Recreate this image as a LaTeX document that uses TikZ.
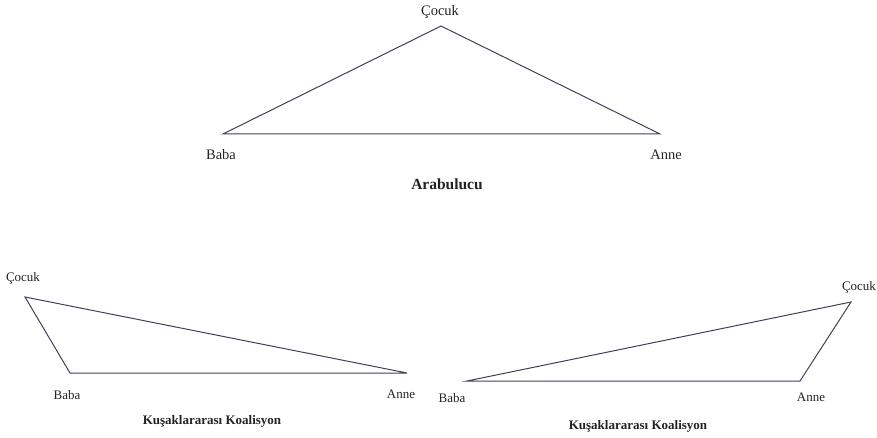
\documentclass[tikz,border=0pt]{standalone}
\usepackage{fontspec}
\setmainfont{Liberation Serif}
\definecolor{edgecol}{RGB}{62,66,88}
\definecolor{txtcol}{RGB}{35,35,35}
\begin{document}
\begin{tikzpicture}[x=1pt,y=-1pt,
  edge/.style={draw=edgecol, line width=1pt, line join=miter},
  lbl/.style={inner sep=0pt, font=\fontsize{13}{15}\selectfont, text=txtcol},
  biglbl/.style={inner sep=0pt, font=\fontsize{14.5}{16}\selectfont, text=txtcol},
  ttl/.style={inner sep=0pt, font=\fontsize{13}{15}\selectfont\bfseries, text=txtcol},
  bigttl/.style={inner sep=0pt, font=\fontsize{15.5}{17}\selectfont\bfseries, text=txtcol}]
\useasboundingbox (0,0) rectangle (877,438);
% top triangle
\coordinate (tc) at (441,26);
\coordinate (tb) at (223,134);
\coordinate (ta) at (660,134);
\draw[edge] (tc) -- (ta) -- (tb) -- cycle;
\node[biglbl] (ltc) at (440,12) {Çocuk};
\node[biglbl] (ltb) at (221,155) {Baba};
\node[biglbl] (lta) at (666,155) {Anne};
\node[bigttl] (ttop) at (447,184) {Arabulucu};
% bottom-left triangle
\coordinate (lc) at (25,297);
\coordinate (lb) at (70,373);
\coordinate (la) at (407,373);
\draw[edge] (lc) -- (la) -- (lb) -- cycle;
\node[lbl] (llc) at (23,278) {Çocuk};
\node[lbl] (llb) at (67,395) {Baba};
\node[lbl] (lla) at (401,394) {Anne};
\node[ttl] (tleft) at (212,421) {Kuşaklararası Koalisyon};
% bottom-right triangle
\coordinate (rc) at (851,302);
\coordinate (rb) at (467,381);
\coordinate (ra) at (800,381);
\draw[edge] (rb) -- (rc) -- (ra) -- cycle;
\node[lbl] (lrc) at (859,287) {Çocuk};
\node[lbl] (lrb) at (452,398) {Baba};
\node[lbl] (lra) at (811,397) {Anne};
\node[ttl] (tright) at (638,426) {Kuşaklararası Koalisyon};
\end{tikzpicture}
\end{document}
